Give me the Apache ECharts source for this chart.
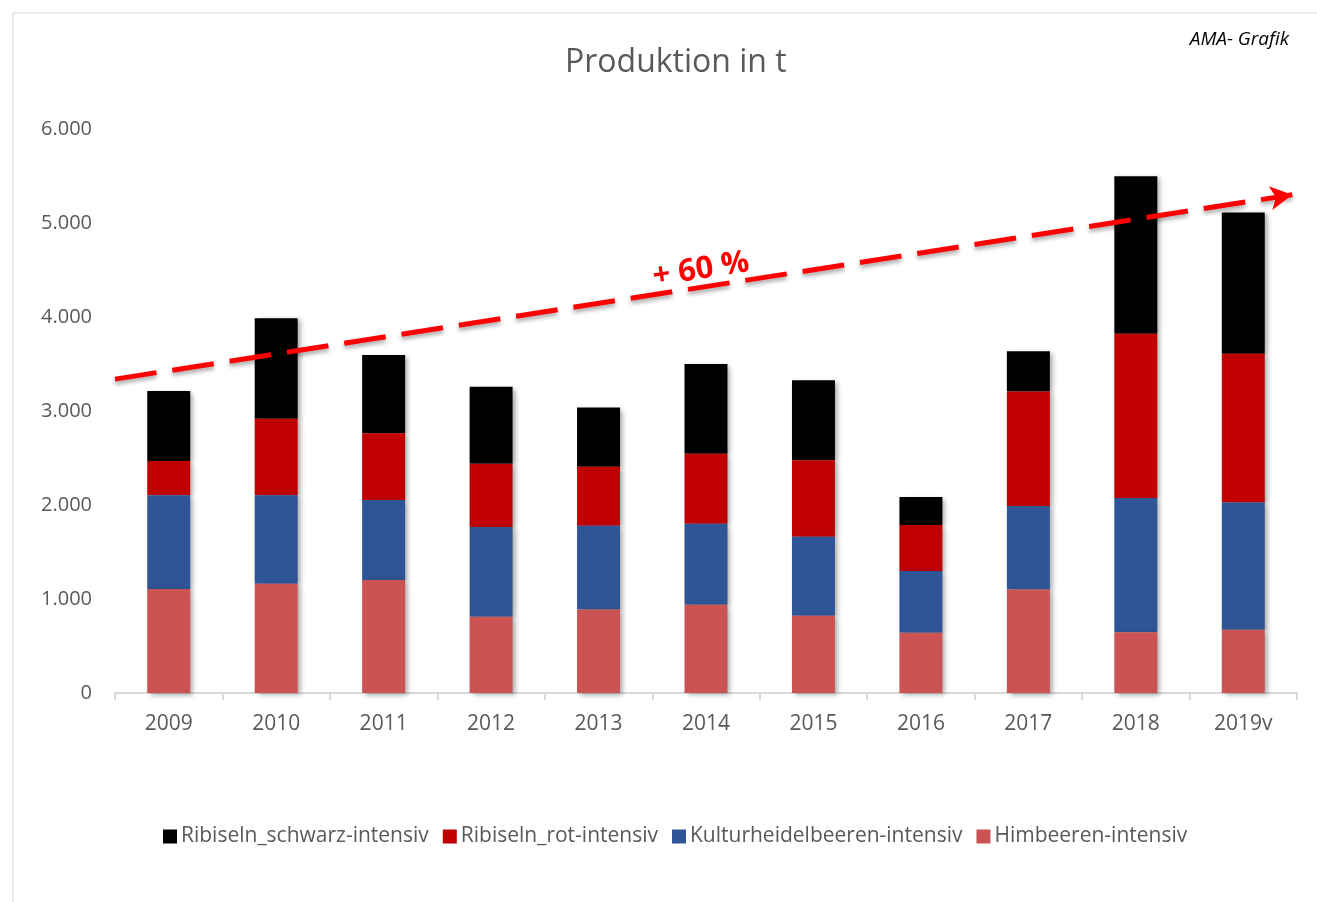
<!DOCTYPE html>
<html><head><meta charset="utf-8">
<script src="https://cdn.jsdelivr.net/npm/echarts@6/dist/echarts.min.js"></script>
<style>html,body{margin:0;padding:0;background:#fff}#c{width:1317px;height:902px}</style>
</head><body><div id="c"></div>
<script>
const categories = ['2009','2010','2011','2012','2013','2014','2015','2016','2017','2018','2019v'];
const himbeeren = [1106, 1162, 1201, 811, 889, 939, 822, 641, 1102, 645, 673];
const kulturheidelbeeren = [999, 943, 851, 954, 890, 861, 840, 656, 888, 1430, 1353];
const ribiselnRot = [362, 812, 712, 673, 627, 744, 815, 489, 1218, 1746, 1583];
const ribiselnSchwarz = [747, 1070, 833, 819, 631, 957, 851, 298, 428, 1677, 1503];
const yTicks = [0, 1000, 2000, 3000, 4000, 5000, 6000];
const trendStart = [0, 3339];
const trendEnd = [0.996, 5301];
const trendLabel = '+ 60 %';

const FONT = '"Open Sans", Lato, sans-serif';
const chart = echarts.init(document.getElementById('c'), null, {renderer: 'canvas'});
const shadow = {shadowColor: 'rgba(0,0,0,0.35)', shadowBlur: 5, shadowOffsetX: 3, shadowOffsetY: 2};
function barSeries(name, data, color, z) {
  return {name, type: 'bar', stack: 'total', data, barWidth: '40%', z,
    itemStyle: Object.assign({color}, shadow), emphasis: {disabled: true}};
}
chart.setOption({
  animation: false,
  textStyle: {fontFamily: FONT},
  title: {text: 'Produktion in t', left: 560, top: 42,
    textStyle: {fontSize: 32, fontWeight: 'normal', color: '#595959', fontFamily: FONT}},
  graphic: [
    {type: 'rect', shape: {x: 13, y: 13, width: 1330, height: 900}, style: {fill: 'none', stroke: '#d9d9d9', lineWidth: 1}, silent: true},
    {type: 'text', right: 28, top: 30, style: {text: 'AMA- Grafik', font: 'italic 19px ' + FONT, fill: '#000'}}
  ],
  grid: {left: 115, right: 20, top: 129, bottom: 209},
  legend: {
    bottom: 50, left: 158, itemWidth: 14, itemHeight: 14, itemGap: 14, icon: 'rect',
    data: ['Ribiseln_schwarz-intensiv', 'Ribiseln_rot-intensiv', 'Kulturheidelbeeren-intensiv', 'Himbeeren-intensiv'],
    textStyle: {fontSize: 21, color: '#595959', fontFamily: FONT, padding: [0, 0, 0, -1]}
  },
  xAxis: [
    {type: 'category', data: categories,
      axisLine: {lineStyle: {color: '#d9d9d9', width: 2}},
      axisTick: {show: true, length: 7, lineStyle: {color: '#d9d9d9', width: 2}},
      axisLabel: {fontSize: 21, color: '#595959', margin: 21, fontFamily: FONT}},
    {type: 'value', min: 0, max: 1, show: false}
  ],
  yAxis: {type: 'value', min: yTicks[0], max: yTicks[yTicks.length - 1], interval: 1000,
    splitLine: {show: false}, axisLine: {show: false}, axisTick: {show: false},
    axisLabel: {fontSize: 20, color: '#595959', margin: 23, fontFamily: FONT,
      formatter: v => String(v).replace(/\B(?=(\d{3})+(?!\d))/g, '.')}},
  series: [
    barSeries('Himbeeren-intensiv', himbeeren, '#cb5353', 8),
    barSeries('Kulturheidelbeeren-intensiv', kulturheidelbeeren, '#2f5597', 7),
    barSeries('Ribiseln_rot-intensiv', ribiselnRot, '#c00000', 6),
    barSeries('Ribiseln_schwarz-intensiv', ribiselnSchwarz, '#000000', 5),
    {type: 'line', xAxisIndex: 1, data: [], z: 20, silent: true,
      markLine: {silent: true, symbol: ['none', 'arrow'], symbolSize: [18, 22], z: 20,
        lineStyle: {color: '#ff0000', width: 5, type: [42, 16],
          shadowColor: 'rgba(0,0,0,0.35)', shadowBlur: 4, shadowOffsetY: 3},
        label: {show: true, position: 'middle', formatter: trendLabel, distance: 2,
          color: '#ff0000', fontSize: 31, fontWeight: 'bold', fontFamily: FONT},
        emphasis: {disabled: true},
        data: [[{coord: trendStart}, {coord: trendEnd}]]}}
  ]
});
</script></body></html>
